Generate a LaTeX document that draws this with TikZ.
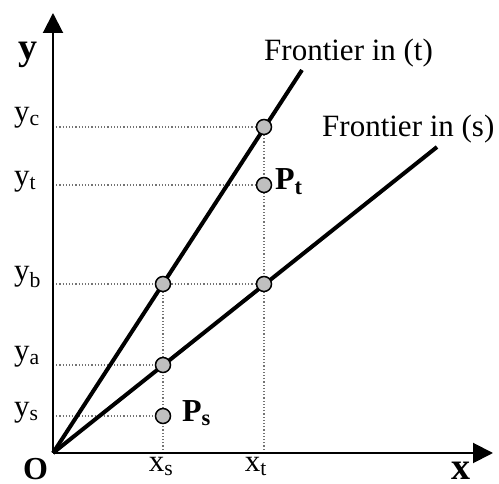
\documentclass[tikz,border=0pt]{standalone}
\usepackage{fontspec}
\setmainfont{Liberation Serif}
\usetikzlibrary{arrows.meta,backgrounds}

\begin{document}
\begin{tikzpicture}[x=1pt, y=1pt,
  axis/.style={line width=2pt, -{Triangle[length=20pt, width=20pt]}},
  frontier/.style={line width=4pt},
  guide/.style={gray!90!black, line width=1.2pt, dotted},
  dot/.style={circle, draw, line width=1.5pt, fill=lightgray, minimum size=15pt, inner sep=0pt},
  lbl/.style={anchor=base west, inner sep=0pt, font=\fontsize{31}{36}\selectfont},
  axlbl/.style={anchor=base west, inner sep=0pt, font=\fontsize{38}{44}\selectfont\bfseries}
]
  \useasboundingbox (-53,-31) rectangle (446,453);

  % axes and ticks
  \coordinate (O) at (0,0);
  \coordinate (xend) at (440,0);
  \coordinate (yend) at (0,440);
  \coordinate (xs) at (110,0);
  \coordinate (xt) at (211,0);
  \coordinate (ys) at (0,37);
  \coordinate (ya) at (0,88);
  \coordinate (yb) at (0,169);
  \coordinate (yt) at (0,268);
  \coordinate (yc) at (0,326);
  \coordinate (tend) at (249,383);
  \coordinate (send) at (384,306);

  % points
  \node[dot] (a) at (110,88) {};
  \node[dot] (b) at (110,169) {};
  \node[dot] (c) at (211,326) {};
  \node[dot] (d) at (211,169) {};
  \node[dot] (Pt) at (211,268) {};
  \node[dot] (Ps) at (110,37) {};

  \begin{scope}[on background layer]
    % guides
    \draw[guide] (ys) -- (Ps);
    \draw[guide] (ya) -- (a);
    \draw[guide] (yb) -- (d);
    \draw[guide] (yt) -- (Pt);
    \draw[guide] (yc) -- (c);
    \draw[guide] (xs) -- (b);
    \draw[guide] (xt) -- (c);
    % frontiers
    \draw[frontier] (O) -- (tend);
    \draw[frontier] (O) -- (send);
    \draw[axis] (O) -- (xend);
    \draw[axis] (O) -- (yend);
  \end{scope}

  % labels
  \node[lbl] (lyc) at (-39,331) {y\textsubscript{c}};
  \node[lbl] (lyt) at (-39,267) {y\textsubscript{t}};
  \node[lbl] (lyb) at (-39,172) {y\textsubscript{b}};
  \node[lbl] (lya) at (-39,92) {y\textsubscript{a}};
  \node[lbl] (lys) at (-39,36) {y\textsubscript{s}};
  \node[lbl, anchor=base] (lxs) at (108,-19) {x\textsubscript{s}};
  \node[lbl, anchor=base] (lxt) at (203,-19) {x\textsubscript{t}};
  \node[lbl] (ft) at (211,392) {Frontier in (t)};
  \node[lbl] (fs) at (269,316) {Frontier in (s)};
  \node[lbl, font=\fontsize{32}{36}\selectfont\bfseries] (lPt) at (222,263) {P\textsubscript{t}};
  \node[lbl, font=\fontsize{32}{36}\selectfont\bfseries] (lPs) at (129,31) {P\textsubscript{s}};
  \node[axlbl] (ly) at (-35,393) {y};
  \node[axlbl] (lx) at (398,-27) {x};
  \node[axlbl, font=\fontsize{32}{36}\selectfont\bfseries] (lO) at (-30,-26.5) {O};
\end{tikzpicture}
\end{document}
